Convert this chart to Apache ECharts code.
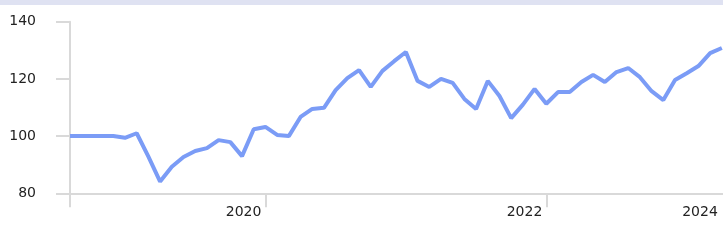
<!DOCTYPE html>
<html>
<head>
<meta charset="utf-8">
<script src="https://cdn.jsdelivr.net/npm/echarts@6/dist/echarts.min.js"></script>
<style>
  html, body { margin: 0; padding: 0; background: #fff; }
  #wrap { position: relative; width: 723px; height: 244px; }
  #band { position: absolute; left: 0; top: 0; width: 723px; height: 5px; background: #dfe2f2; z-index: 2; }
  #chart { width: 723px; height: 244px; }
</style>
</head>
<body>
<div id="wrap">
  <div id="band"></div>
  <div id="chart"></div>
</div>
<script>
  // index series (monthly points)
  const values = [
    100, 100, 100, 100, 100, 99.4, 101, 92.8, 84.1, 89.3,
    92.7, 94.8, 95.8, 98.6, 97.9, 93, 102.4, 103.2, 100.4, 100,
    106.7, 109.5, 109.9, 116.1, 120.3, 123.1, 117.2, 122.8, 126.2, 129.4,
    119.3, 117.2, 120, 118.6, 113, 109.5, 119.3, 114, 106.3, 111,
    116.5, 111.3, 115.4, 115.4, 118.9, 121.4, 118.9, 122.4, 123.8, 120.6,
    115.7, 112.6, 119.6, 122, 124.5, 129, 130.8
  ];
  const xMin = 0.3;
  const xMax = 56.1;
  const tickPos = [0.3, 17, 41];
  const labelPos = [17, 41, 56];
  const labelText = ['2020', '2022', '2024'];
  const yTicks = [80, 100, 120, 140];

  const chart = echarts.init(document.getElementById('chart'));
  const axisColor = '#d9d9d9';

  chart.setOption({
    animation: false,
    grid: { left: 70, right: 0, top: 21.7, bottom: 50.7, containLabel: false },
    xAxis: {
      type: 'value',
      min: xMin,
      max: xMax,
      axisLine: { show: true, lineStyle: { color: axisColor, width: 2 } },
      axisTick: { show: true, length: 14, customValues: tickPos, lineStyle: { color: axisColor, width: 2 } },
      axisLabel: {
        customValues: labelPos,
        formatter: v => labelText[labelPos.indexOf(v)] || '',
        align: 'right',
        padding: [0, 4, 0, 0],
        margin: 12,
        fontSize: 14,
        color: '#222',
        fontFamily: 'DejaVu Sans'
      },
      splitLine: { show: false }
    },
    yAxis: {
      type: 'value',
      min: yTicks[0],
      max: yTicks[yTicks.length - 1],
      interval: 20,
      axisLine: { show: true, lineStyle: { color: axisColor, width: 2 } },
      axisTick: { show: true, length: 14, lineStyle: { color: axisColor, width: 2 } },
      axisLabel: { margin: 34, fontSize: 14, color: '#222', fontFamily: 'DejaVu Sans' },
      splitLine: { show: false }
    },
    series: [{
      type: 'line',
      // first point sits on the axis start (series is flat there)
      data: values.map((v, i) => [Math.max(i, xMin), v]),
      symbol: 'none',
      clip: true,
      lineStyle: { color: '#7b9cf6', width: 4 }
    }]
  });
</script>
</body>
</html>
